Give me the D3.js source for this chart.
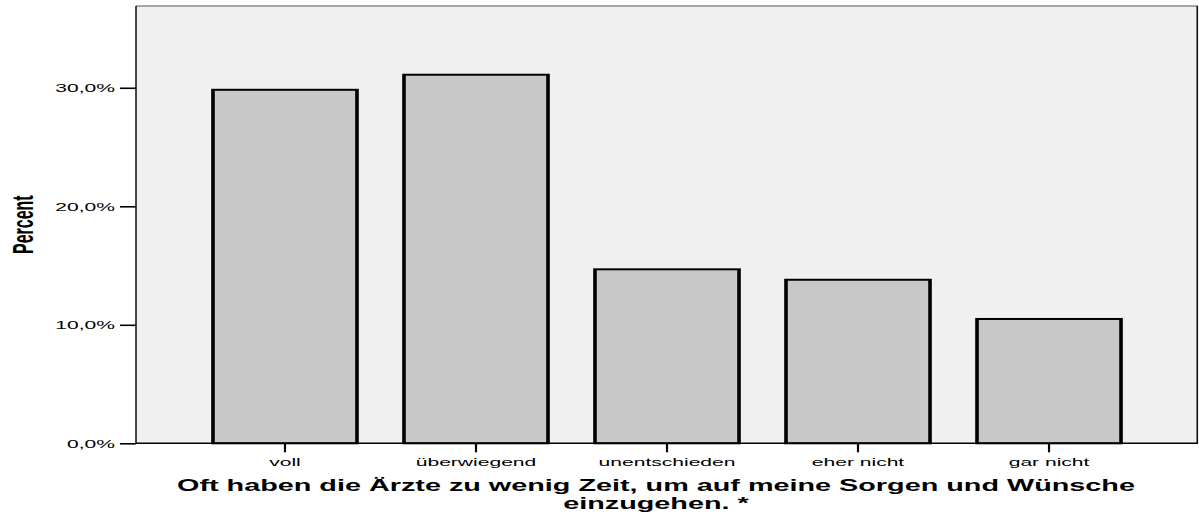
<!DOCTYPE html>
<html>
<head>
<meta charset="utf-8">
<script src="https://cdn.jsdelivr.net/npm/d3@7"></script>
<style>
  html, body { margin: 0; padding: 0; background: #fff; }
  svg { display: block; }
  text { font-family: "Liberation Sans", Arial, sans-serif; fill: #000; }
</style>
</head>
<body>
<div id="chart"></div>
<script>
// data
const categories = ['voll', 'überwiegend', 'unentschieden', 'eher nicht', 'gar nicht'];
const percents = [29.83, 31.1, 14.68, 13.8, 10.49];
const yTicks = [0, 10, 20, 30];
const yLabel = 'Percent';
const xTitle = ['Oft haben die Ärzte zu wenig Zeit, um auf meine Sorgen und Wünsche', 'einzugehen. *'];

// the original picture is stretched sideways, so draw in a narrow
// coordinate space and let the viewBox widen it
const stretch = 1.8;
const width = 1199;
const height = 517;
const vw = width / stretch;

const plot = { left: 136 / stretch, right: 1198 / stretch, top: 6, bottom: 443.3 };

const de = d3.formatLocale({ decimal: ',', thousands: '.', grouping: [3], currency: ['', '€'] });
const fmt = d => de.format('.1f')(d) + '%';

const svg = d3.select('#chart').append('svg')
  .attr('width', width)
  .attr('height', height)
  .attr('viewBox', `0 0 ${vw} ${height}`)
  .attr('preserveAspectRatio', 'none');

const x = d3.scaleBand()
  .domain(categories)
  .range([plot.left, plot.right])
  .paddingInner(0.246)
  .paddingOuter(0.403);

const y = d3.scaleLinear()
  .domain([0, 36.9])
  .range([plot.bottom, plot.top]);

// plot background
svg.append('rect')
  .attr('x', plot.left)
  .attr('y', plot.top)
  .attr('width', plot.right - plot.left)
  .attr('height', plot.bottom - plot.top)
  .style('fill', '#f0f0f0');

// bars
svg.append('g')
  .selectAll('rect')
  .data(percents)
  .enter()
  .append('rect')
  .attr('x', (d, i) => x(categories[i]))
  .attr('y', d => y(d))
  .attr('width', x.bandwidth())
  .attr('height', d => y(0) - y(d))
  .style('fill', '#c8c8c8')
  .style('stroke', '#000')
  .style('stroke-width', 2);

// frame
svg.append('line')
  .attr('x1', plot.left).attr('x2', plot.right)
  .attr('y1', plot.top).attr('y2', plot.top)
  .style('stroke', '#555').style('stroke-width', 1.2);
svg.append('line')
  .attr('x1', plot.right - 0.4).attr('x2', plot.right - 0.4)
  .attr('y1', plot.top).attr('y2', plot.bottom)
  .style('stroke', '#111').style('stroke-width', 0.9);

// y axis
const yAxis = svg.append('g')
  .attr('transform', `translate(${plot.left},0)`)
  .call(d3.axisLeft(y).tickValues(yTicks).tickFormat(fmt)
    .tickSize(16 / stretch).tickPadding(5 / stretch));
yAxis.select('.domain').remove();
yAxis.selectAll('.tick line').style('stroke', '#000').style('stroke-width', 1.6);
yAxis.selectAll('.tick text').style('font-size', '11.7px');

svg.append('line')
  .attr('x1', plot.left).attr('x2', plot.left)
  .attr('y1', plot.top).attr('y2', plot.bottom)
  .style('stroke', '#000').style('stroke-width', 0.8);

// x axis
const xAxis = svg.append('g')
  .attr('transform', `translate(0,${plot.bottom})`)
  .call(d3.axisBottom(x).tickSize(9).tickPadding(5.4).tickSizeOuter(0));
xAxis.select('.domain').remove();
xAxis.selectAll('.tick line').style('stroke', '#000').style('stroke-width', 1.2);
xAxis.selectAll('.tick text').style('font-size', '11.7px');

svg.append('line')
  .attr('x1', plot.left).attr('x2', plot.right)
  .attr('y1', plot.bottom).attr('y2', plot.bottom)
  .style('stroke', '#000').style('stroke-width', 1.6);

// axis titles
svg.append('text')
  .attr('transform', `translate(${33 / stretch},${(plot.top + plot.bottom) / 2}) rotate(-90)`)
  .attr('text-anchor', 'middle')
  .style('font-size', '16px')
  .style('font-weight', 'bold')
  .text(yLabel);

svg.append('g')
  .selectAll('text')
  .data(xTitle)
  .enter()
  .append('text')
  .attr('x', 656 / stretch)
  .attr('y', (d, i) => 490.7 + i * 18.3)
  .attr('text-anchor', 'middle')
  .style('font-size', '16px')
  .style('font-weight', 'bold')
  .text(d => d);
</script>
</body>
</html>
